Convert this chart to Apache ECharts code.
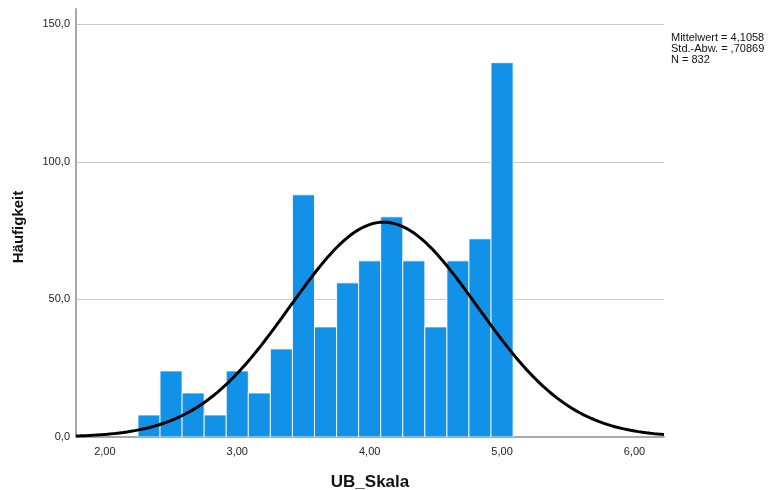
<!DOCTYPE html>
<html>
<head>
<meta charset="utf-8">
<script src="https://cdn.jsdelivr.net/npm/echarts@6/dist/echarts.min.js"></script>
<style>
  html, body { margin: 0; padding: 0; background: #ffffff; }
  #chart { width: 771px; height: 490px; }
</style>
</head>
<body>
<div id="chart"></div>
<script>
// Histogram of UB_Skala: 17 bins of width 1/6, first bin starting at 2.25
const binStart = 2.25;
const binWidth = 1 / 6;
const counts = [8, 24, 16, 8, 24, 16, 32, 88, 40, 56, 64, 80, 64, 40, 64, 72, 136];

// Descriptive statistics printed beside the plot
const meanValue = 4.1058;
const stdDev = 0.70869;
const nTotal = 832;
const statLines = ['Mittelwert = 4,1058', 'Std.-Abw. = ,70869', 'N = 832'];

// Axis ranges and labelled tick values
const xMin = 1.782, xMax = 6.223;
const yMin = 0, yMax = 155.5;
const xTickValues = [2, 3, 4, 5, 6];

// Bins as [lower edge, upper edge, count]
const bins = counts.map((c, i) => [binStart + i * binWidth, binStart + (i + 1) * binWidth, c]);

// Fitted normal density scaled to counts (N * bin width)
const normalCurve = [];
const steps = 300;
for (let i = 0; i <= steps; i++) {
  const x = xMin + (xMax - xMin) * i / steps;
  const z = (x - meanValue) / stdDev;
  const y = nTotal * binWidth / (stdDev * Math.sqrt(2 * Math.PI)) * Math.exp(-0.5 * z * z);
  normalCurve.push([x, y]);
}

const comma = (v, d) => v.toFixed(d).replace('.', ',');

const chart = echarts.init(document.getElementById('chart'), null, { renderer: 'canvas' });
chart.setOption({
  animation: false,
  backgroundColor: '#ffffff',
  textStyle: { fontFamily: 'Liberation Sans, Arial, sans-serif' },
  grid: { left: 76, right: 107, top: 9, bottom: 53, containLabel: false, outerBoundsMode: 'none' },
  xAxis: {
    type: 'value',
    min: xMin,
    max: xMax,
    name: 'UB_Skala',
    nameLocation: 'middle',
    nameGap: 37,
    nameTextStyle: { fontSize: 17, fontWeight: 'bold', color: '#111' },
    axisLine: { show: true, lineStyle: { color: '#a8a8a8', width: 2 } },
    axisTick: { show: false },
    splitLine: { show: false },
    axisLabel: {
      fontSize: 11, color: '#222', margin: 9,
      customValues: xTickValues,
      formatter: v => comma(v, 2)
    }
  },
  yAxis: {
    type: 'value',
    min: yMin,
    max: yMax,
    interval: 50,
    name: 'Häufigkeit',
    nameLocation: 'middle',
    nameGap: 50,
    nameRotate: 90,
    nameTextStyle: { fontSize: 15, fontWeight: 'bold', color: '#111', padding: [0, 8, 0, 0] },
    axisLine: { show: true, lineStyle: { color: '#a8a8a8', width: 2 } },
    axisTick: { show: false },
    splitLine: { show: true, showMinLine: false, showMaxLine: false, lineStyle: { color: '#c8c8c8', width: 1 } },
    axisLabel: {
      fontSize: 11, color: '#222', margin: 6,
      showMaxLabel: false,
      formatter: v => (Math.abs(v % 50) < 1e-9 ? comma(v, 1) : '')
    }
  },
  series: [
    {
      type: 'custom',
      data: bins,
      clip: true,
      z: 2,
      renderItem: (params, api) => {
        const p0 = api.coord([api.value(0), api.value(2)]);
        const p1 = api.coord([api.value(1), 0]);
        return {
          type: 'rect',
          shape: { x: p0[0], y: p0[1], width: p1[0] - p0[0], height: p1[1] - p0[1] },
          style: { fill: '#1192e8', stroke: 'rgba(255,255,255,0.85)', lineWidth: 1 }
        };
      }
    },
    {
      type: 'line',
      data: normalCurve,
      showSymbol: false,
      smooth: false,
      clip: true,
      z: 3,
      lineStyle: { color: '#000000', width: 3 }
    }
  ],
  graphic: [
    {
      type: 'text',
      left: 671,
      top: 32,
      style: {
        text: statLines.join('\n'),
        font: '11px "Liberation Sans", Arial, sans-serif',
        lineHeight: 11,
        fill: '#111'
      }
    }
  ]
});
</script>
</body>
</html>
